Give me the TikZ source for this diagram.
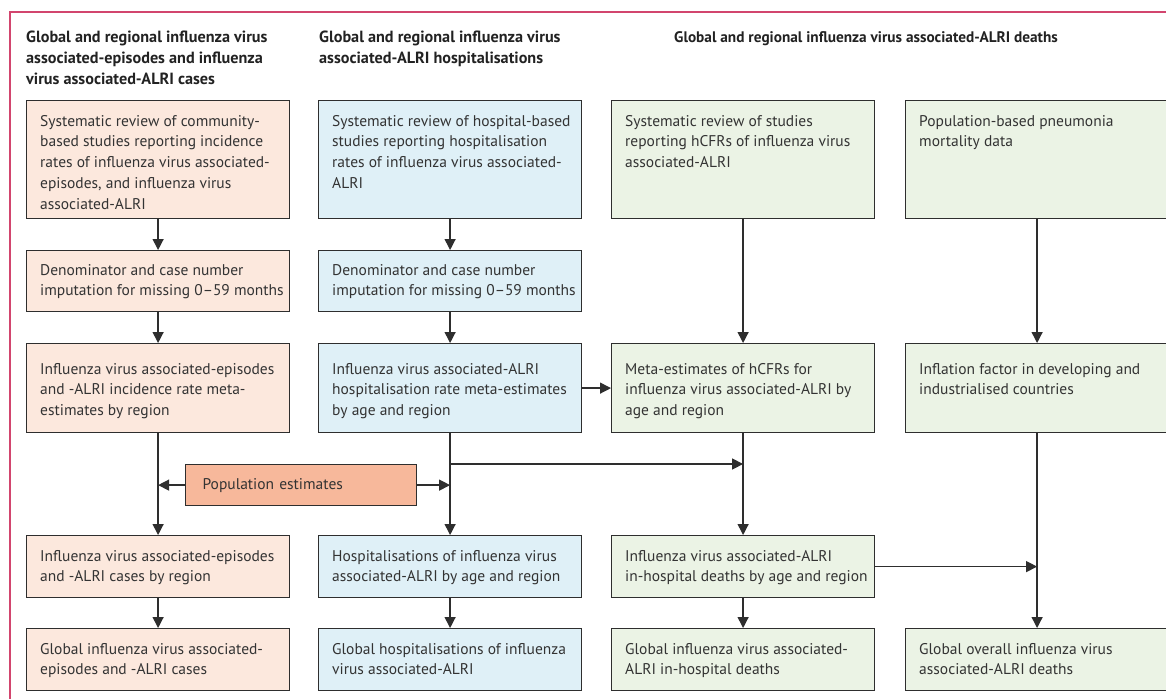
\documentclass[tikz,border=0pt]{standalone}
\usepackage{fontspec}
\setmainfont{PT Sans}
\usetikzlibrary{arrows.meta,calc}
\definecolor{peach}{HTML}{FCE8DD}
\definecolor{lblue}{HTML}{DFF0F7}
\definecolor{lgreen}{HTML}{EBF3E5}
\definecolor{salmon}{HTML}{F7B89B}
\definecolor{framecol}{HTML}{D2456E}
\definecolor{ink}{HTML}{2E2E2E}
\definecolor{txtcol}{HTML}{333333}
\definecolor{hdrcol}{HTML}{222222}
\begin{document}
\begin{tikzpicture}[x=1pt,y=-1pt,
  boxst/.style={draw=ink,line width=1.2pt,minimum width=263pt,anchor=north west,inner sep=0pt},
  txtst/.style={anchor=north west,inner sep=0pt,align=left,text=txtcol,font=\fontsize{15.5}{20.7}\selectfont},
  hdr/.style={inner sep=0pt,align=left,text=hdrcol,font=\fontsize{16.2}{20.7}\selectfont\bfseries},
  arr/.style={draw=ink,line width=1.3pt,-{Triangle[length=11pt,width=11pt]}}
]
\clip (0,0) rectangle (1166,698);
\useasboundingbox (0,0) rectangle (1166,698);
\fill[white] (0,0) rectangle (1166,698);
% frame
\draw[framecol,line width=1.5pt] (1170,12) -- (10,12) -- (10,700);
% headers
\node[hdr,anchor=north west] (h1) at (26,31) {Global and regional influenza virus\\associated-episodes and influenza\\virus associated-ALRI cases};
\node[hdr,anchor=north west] (h2) at (319,31) {Global and regional influenza virus\\associated-ALRI hospitalisations};
\node[hdr,anchor=north,font=\fontsize{15.3}{20.7}\selectfont\bfseries] (h3) at (866,31.5) {Global and regional influenza virus associated-ALRI deaths};
% boxes
\foreach \c/\x/\col in {1/26/peach,2/318/lblue}{
  \foreach \r/\y/\h in {1/100/118,2/250/61,3/343/89,4/535/62,5/628/62}{
    \node[boxst,fill=\col,minimum height=\h pt] (b\c\r) at (\x,\y) {};
  }
}
\foreach \r/\y/\h in {1/100/118,3/343/89,4/535/62,5/628/62}{
  \node[boxst,fill=lgreen,minimum height=\h pt] (b3\r) at (611,\y) {};
}
\foreach \r/\y/\h in {1/100/118,3/343/89,5/628/62}{
  \node[boxst,fill=lgreen,minimum height=\h pt] (b4\r) at (905,\y) {};
}
% texts
\node[txtst] (t11) at ([shift={(14,15)}]b11.north west) {Systematic review of community-\\based studies reporting incidence\\rates of influenza virus associated-\\episodes, and influenza virus\\associated-ALRI};
\node[txtst] (t21) at ([shift={(14,15)}]b21.north west) {Systematic review of hospital-based\\studies reporting hospitalisation\\rates of influenza virus associated-\\ALRI};
\node[txtst] (t31) at ([shift={(14,15)}]b31.north west) {Systematic review of studies\\reporting hCFRs of influenza virus\\associated-ALRI};
\node[txtst] (t41) at ([shift={(14,15)}]b41.north west) {Population-based pneumonia\\mortality data};
\node[txtst] (t12) at ([shift={(14,14)}]b12.north west) {Denominator and case number\\imputation for missing 0–59 months};
\node[txtst] (t22) at ([shift={(14,14)}]b22.north west) {Denominator and case number\\imputation for missing 0–59 months};
\node[txtst] (t13) at ([shift={(14,20)}]b13.north west) {Influenza virus associated-episodes\\and -ALRI incidence rate meta-\\estimates by region};
\node[txtst] (t23) at ([shift={(14,20)}]b23.north west) {Influenza virus associated-ALRI\\hospitalisation rate meta-estimates\\by age and region};
\node[txtst] (t33) at ([shift={(14,20)}]b33.north west) {Meta-estimates of hCFRs for\\influenza virus associated-ALRI by\\age and region};
\node[txtst] (t43) at ([shift={(14,20)}]b43.north west) {Inflation factor in developing and\\industrialised countries};
\node[txtst] (t14) at ([shift={(14,15)}]b14.north west) {Influenza virus associated-episodes\\and -ALRI cases by region};
\node[txtst] (t24) at ([shift={(14,15)}]b24.north west) {Hospitalisations of influenza virus\\associated-ALRI by age and region};
\node[txtst] (t34) at ([shift={(14,15)}]b34.north west) {Influenza virus associated-ALRI\\in-hospital deaths by age and region};
\node[txtst] (t15) at ([shift={(14,15)}]b15.north west) {Global influenza virus associated-\\episodes and -ALRI cases};
\node[txtst] (t25) at ([shift={(14,15)}]b25.north west) {Global hospitalisations of influenza\\virus associated-ALRI};
\node[txtst] (t35) at ([shift={(14,15)}]b35.north west) {Global influenza virus associated-\\ALRI in-hospital deaths};
\node[txtst] (t45) at ([shift={(14,15)}]b45.north west) {Global overall influenza virus\\associated-ALRI deaths};
% population estimates
\node[draw=ink,line width=1.2pt,fill=salmon,anchor=north west,minimum height=41pt,text width=197pt,inner xsep=17pt,inner ysep=0pt,align=left,text=txtcol,font=\fontsize{15.5}{21}\selectfont] (pop) at (185,464) {Population estimates};
% connectors
\draw[arr] (b11.south) -- (b12.north);
\draw[arr] (b12.south) -- (b13.north);
\draw[arr] (b13.south) -- (b14.north);
\draw[arr] (b14.south) -- (b15.north);
\draw[arr] (b21.south) -- (b22.north);
\draw[arr] (b22.south) -- (b23.north);
\draw[arr] (b23.south) -- (b24.north);
\draw[arr] (b24.south) -- (b25.north);
\draw[arr] (b31.south) -- (b33.north);
\draw[arr] (b33.south) -- (b34.north);
\draw[arr] (b34.south) -- (b35.north);
\draw[arr] (b41.south) -- (b43.north);
\draw[arr] (b43.south) -- (b45.north);
\draw[arr] (b23.east) -- (b33.west);
\draw[arr] (pop.west) -- (pop.west -| b13.south);
\draw[arr] (pop.east) -- (pop.east -| b23.south);
\coordinate (lvl) at (0,464);
\coordinate (j2) at (b23.south |- lvl);
\draw[arr] (j2) -- (j2 -| b33.south);
\draw[arr] (b34.east) -- (b34.east -| b43.south);
\end{tikzpicture}
\end{document}
